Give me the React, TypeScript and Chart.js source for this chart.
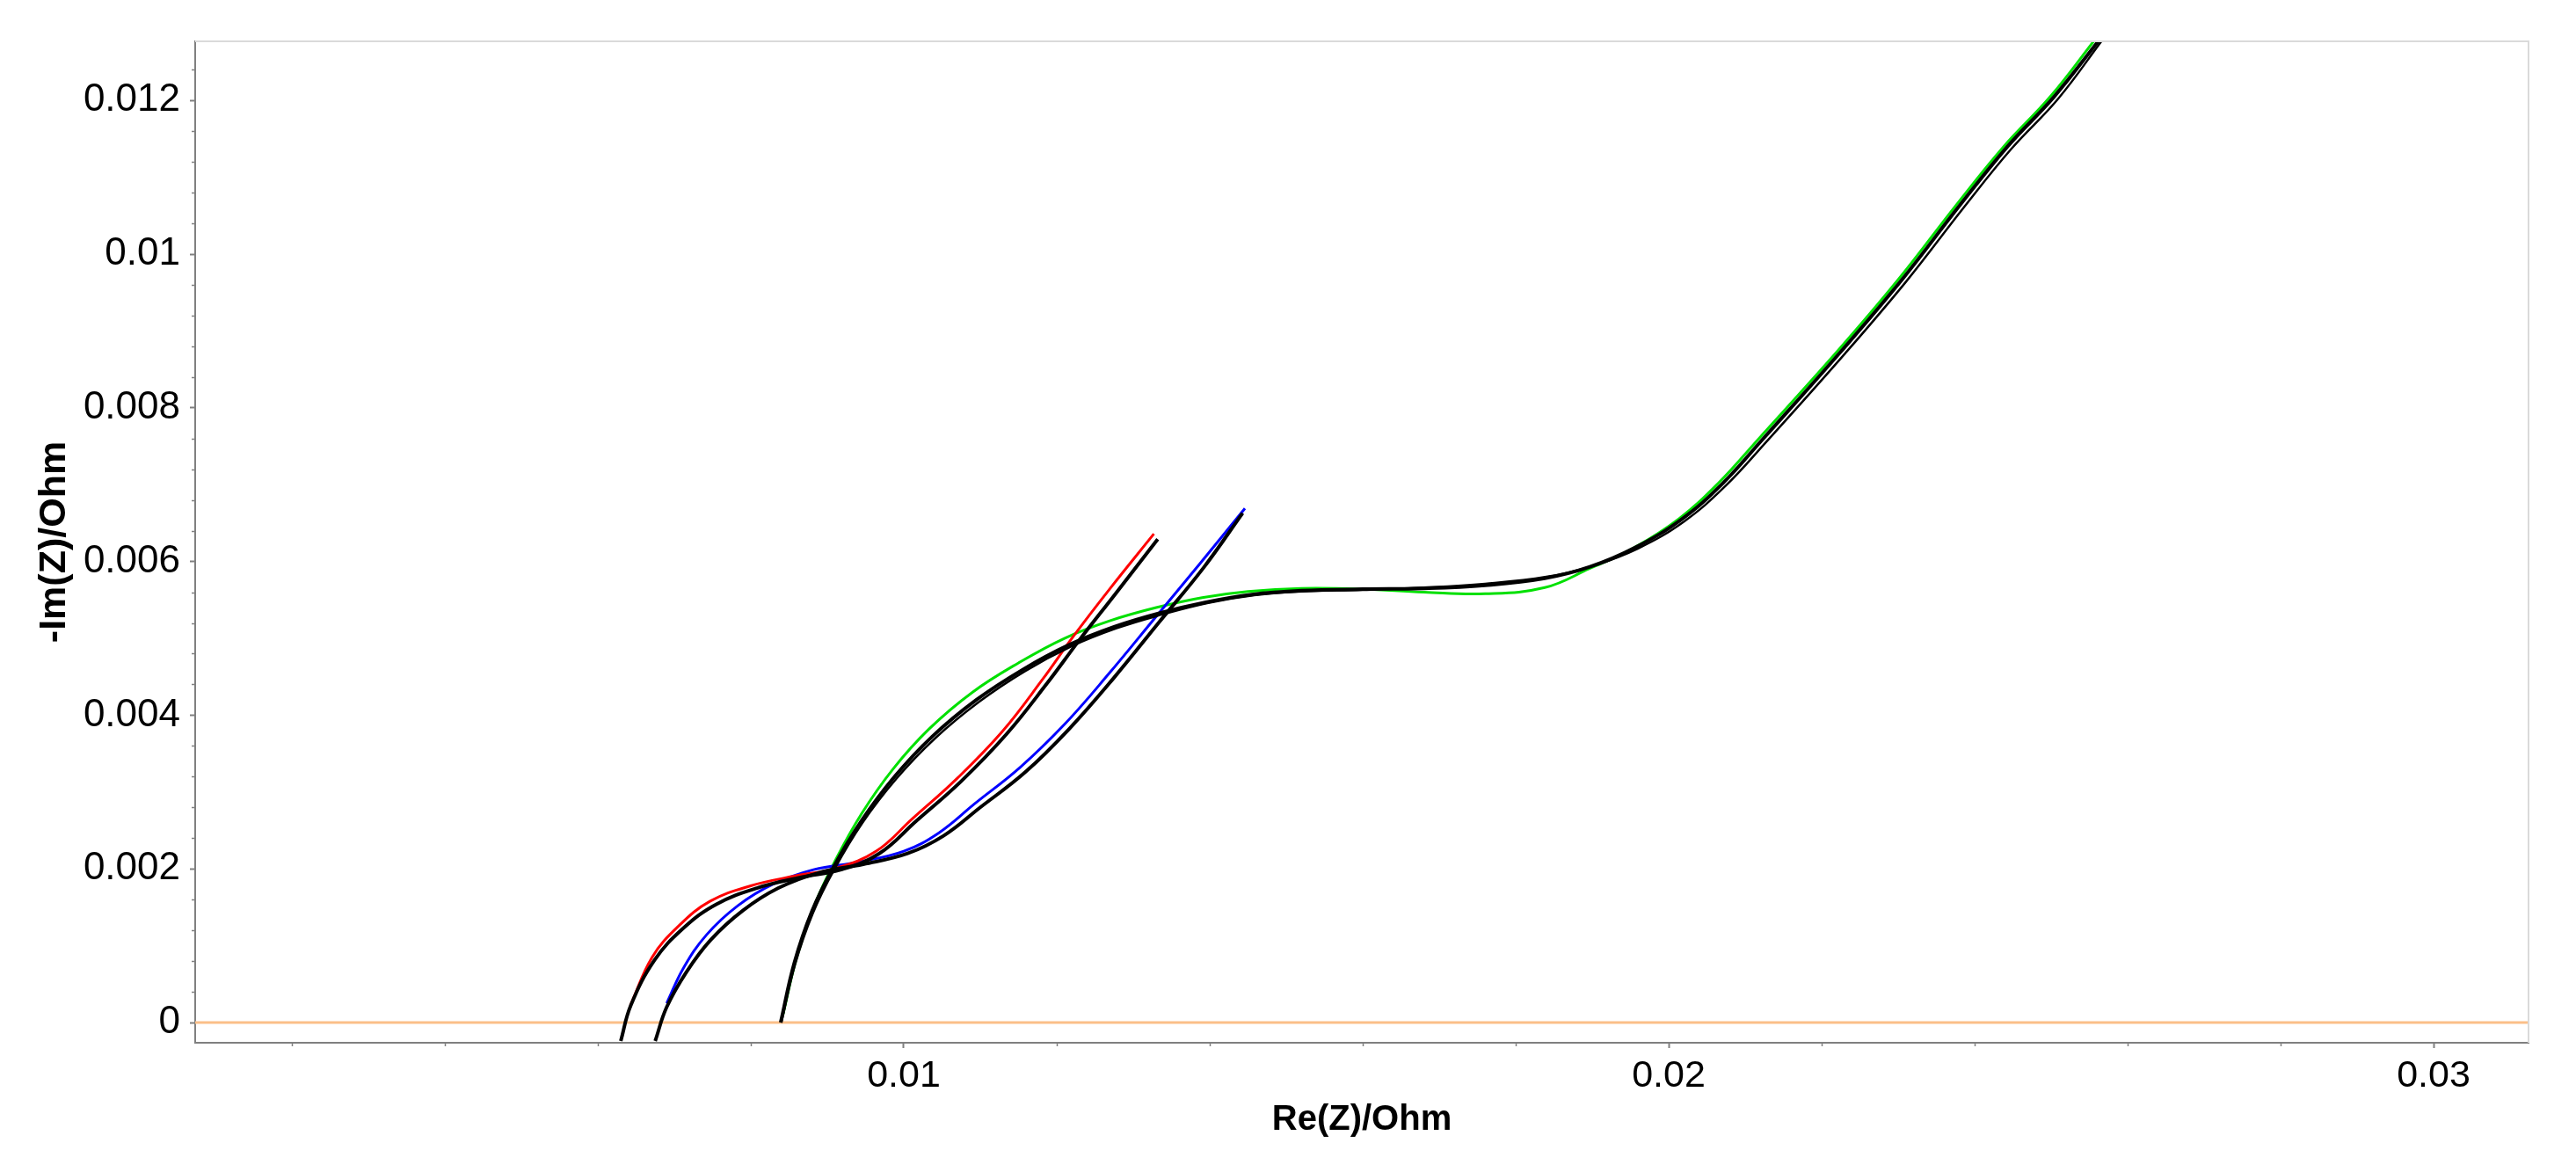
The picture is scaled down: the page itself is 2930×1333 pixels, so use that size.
import React, { useEffect, useRef } from 'react';
import { Chart, registerables } from 'chart.js';

Chart.register(...registerables);

// ---- axis ranges ----
const X_MIN = 0.000736;
const X_MAX = 0.031241;
const Y_MIN = -0.000263;
const Y_MAX = 0.012769;

// ---- ticks ----
const X_MAJOR_TICKS = [0.01, 0.02, 0.03];
const X_TICK_LABELS = ['0.01', '0.02', '0.03'];
const X_MINOR_TICKS = [0.002, 0.004, 0.006, 0.008, 0.012, 0.014, 0.016, 0.018, 0.022, 0.024, 0.026, 0.028];
const Y_MAJOR_TICKS = [0, 0.002, 0.004, 0.006, 0.008, 0.01, 0.012];
const Y_TICK_LABELS = ['0', '0.002', '0.004', '0.006', '0.008', '0.01', '0.012'];
const Y_MINOR_TICKS = [
  0.0004, 0.0008, 0.0012, 0.0016, 0.0024, 0.0028, 0.0032, 0.0036, 0.0044, 0.0048, 0.0052, 0.0056,
  0.0064, 0.0068, 0.0072, 0.0076, 0.0084, 0.0088, 0.0092, 0.0096, 0.0104, 0.0108, 0.0112, 0.0116, 0.0124,
];

// ---- zero reference line ----
const ZERO_X = [X_MIN, X_MAX];
const ZERO_Y = [0, 0];

// ---- red measurement ----
const RED_X = [0.006425, 0.00671, 0.00706, 0.00747, 0.0080, 0.00859, 0.00912, 0.00964, 0.01011, 0.0107, 0.01129, 0.01181, 0.01222, 0.01269, 0.01327];
const RED_Y = [0.00022, 0.00085, 0.00126, 0.00158, 0.00178, 0.00191, 0.00201, 0.00223, 0.00265, 0.00318, 0.00379, 0.00446, 0.00503, 0.00564, 0.00636];
// ---- red fit (black) ----
const RED_FIT_X = [0.0063, 0.00643, 0.00674, 0.00712, 0.00755, 0.00808, 0.00866, 0.00918, 0.00968, 0.01016, 0.01075, 0.01134, 0.01187, 0.01229, 0.01276, 0.01332];
const RED_FIT_Y = [-0.00024, 0.00022, 0.00081, 0.00123, 0.00154, 0.00175, 0.00189, 0.00199, 0.0022, 0.00262, 0.00314, 0.00375, 0.00441, 0.00497, 0.00557, 0.00629];

// ---- blue measurement ----
const BLUE_X = [0.0069, 0.00712, 0.00742, 0.00783, 0.00829, 0.00882, 0.00941, 0.01, 0.01046, 0.01093, 0.01152, 0.01211, 0.01269, 0.01328, 0.01387, 0.01446];
const BLUE_Y = [0.00025, 0.00071, 0.00114, 0.00152, 0.0018, 0.00199, 0.00209, 0.00223, 0.00247, 0.00285, 0.00332, 0.00389, 0.00455, 0.00526, 0.00597, 0.00669];
// ---- blue fit (black) ----
const BLUE_FIT_X = [0.00675, 0.0069, 0.00716, 0.00748, 0.0079, 0.00836, 0.00889, 0.00947, 0.01005, 0.01052, 0.011, 0.01159, 0.01217, 0.01275, 0.01333, 0.01392, 0.01443];
const BLUE_FIT_Y = [-0.00024, 0.0002, 0.00066, 0.00108, 0.00146, 0.00175, 0.00195, 0.00206, 0.0022, 0.00243, 0.0028, 0.00326, 0.00383, 0.00449, 0.0052, 0.00592, 0.00663];

// ---- green measurement ----
const GREEN_X = [0.00842, 0.0086, 0.00883, 0.0091, 0.00945, 0.00986, 0.01033, 0.0109, 0.0115, 0.0121, 0.0127, 0.0133, 0.0139, 0.0145, 0.0152, 0.016, 0.0168, 0.0176, 0.01838, 0.01897, 0.01955, 0.02014, 0.02065, 0.02117, 0.0222, 0.02301, 0.02376, 0.02438, 0.02499, 0.02558];
const GREEN_Y = [0.0001, 0.00085, 0.00152, 0.0021, 0.00272, 0.0033, 0.00382, 0.0043, 0.00468, 0.005, 0.00523, 0.0054, 0.00553, 0.00561, 0.00565, 0.00564, 0.0056, 0.00558, 0.00566, 0.00591, 0.00618, 0.00656, 0.00702, 0.00759, 0.00873, 0.00968, 0.01064, 0.0114, 0.01205, 0.0128];
// ---- green fits (black) ----
const GREEN_FIT1_X = [0.00839, 0.00857, 0.0088, 0.00908, 0.00945, 0.00988, 0.01037, 0.01095, 0.01155, 0.01215, 0.01275, 0.01335, 0.01395, 0.01455, 0.0152, 0.016, 0.0168, 0.0176, 0.01838, 0.01897, 0.01956, 0.02017, 0.0207, 0.02122, 0.02225, 0.02306, 0.02381, 0.02443, 0.02504, 0.02564];
const GREEN_FIT1_Y = [0, 0.00078, 0.00145, 0.00202, 0.00263, 0.0032, 0.00372, 0.0042, 0.00459, 0.00491, 0.00515, 0.00533, 0.00547, 0.00557, 0.00562, 0.00564, 0.00565, 0.00569, 0.00578, 0.00593, 0.00618, 0.00655, 0.00701, 0.00758, 0.00873, 0.00968, 0.01064, 0.0114, 0.01205, 0.0128];
const GREEN_FIT2_X = [0.0084, 0.00858, 0.00881, 0.00909, 0.00946, 0.0099, 0.0104, 0.01098, 0.01158, 0.01218, 0.01278, 0.01338, 0.01398, 0.01458, 0.0152, 0.016, 0.0168, 0.0176, 0.0184, 0.019, 0.0196, 0.0202, 0.02074, 0.02127, 0.0223, 0.02311, 0.02386, 0.02448, 0.02509, 0.02568];
const GREEN_FIT2_Y = [0, 0.00076, 0.00142, 0.00199, 0.0026, 0.00317, 0.00369, 0.00417, 0.00457, 0.00489, 0.00513, 0.00531, 0.00546, 0.00556, 0.00561, 0.00563, 0.00566, 0.00571, 0.0058, 0.00594, 0.00617, 0.00652, 0.00698, 0.00755, 0.0087, 0.00965, 0.01061, 0.01137, 0.01202, 0.0128];

const pts = (xs: number[], ys: number[]) => xs.map((x, i) => ({ x, y: ys[i] }));

const FONT = "'Liberation Sans', Arial, sans-serif";
const AXIS_COLOR = '#808080';

const frame = {
  id: 'frame',
  afterDraw(chart: any) {
    const { ctx, chartArea: a, scales } = chart;
    ctx.save();
    ctx.strokeStyle = '#dadada';
    ctx.lineWidth = 2;
    ctx.beginPath();
    ctx.moveTo(a.left, a.top);
    ctx.lineTo(a.right, a.top);
    ctx.lineTo(a.right, a.bottom);
    ctx.stroke();
    ctx.strokeStyle = AXIS_COLOR;
    ctx.lineWidth = 1.5;
    ctx.beginPath();
    X_MINOR_TICKS.forEach((v) => {
      const px = Math.round(scales.x.getPixelForValue(v)) + 0.5;
      ctx.moveTo(px, a.bottom);
      ctx.lineTo(px, a.bottom + 4);
    });
    Y_MINOR_TICKS.forEach((v) => {
      const py = Math.round(scales.y.getPixelForValue(v)) + 0.5;
      ctx.moveTo(a.left, py);
      ctx.lineTo(a.left - 4, py);
    });
    ctx.stroke();
    ctx.restore();
  },
};

export default function App() {
  const ref = useRef<HTMLCanvasElement>(null);
  useEffect(() => {
    document.body.style.margin = '0';
    const fitLine = (xs: number[], ys: number[], w = 4) => ({
      data: pts(xs, ys),
      borderColor: '#000000',
      borderWidth: w,
      pointRadius: 0,
      tension: 0.4,
      fill: false,
    });
    const measLine = (xs: number[], ys: number[], color: string) => ({
      data: pts(xs, ys),
      borderColor: color,
      borderWidth: 3,
      pointRadius: 0,
      tension: 0.4,
      fill: false,
    });
    const chart = new Chart(ref.current as HTMLCanvasElement, {
      type: 'line',
      data: {
        datasets: [
          fitLine(RED_FIT_X, RED_FIT_Y),
          fitLine(BLUE_FIT_X, BLUE_FIT_Y),
          fitLine(GREEN_FIT1_X, GREEN_FIT1_Y),
          fitLine(GREEN_FIT2_X, GREEN_FIT2_Y, 2.5),
          measLine(RED_X, RED_Y, '#ff0000'),
          measLine(BLUE_X, BLUE_Y, '#0000ff'),
          measLine(GREEN_X, GREEN_Y, '#00e000'),
          { data: pts(ZERO_X, ZERO_Y), borderColor: '#fbbf88', borderWidth: 3, pointRadius: 0, tension: 0 },
        ] as any,
      },
      options: {
        animation: false,
        responsive: false,
        devicePixelRatio: 1,
        layout: { padding: { left: 0, right: 54, top: 47, bottom: 0 } },
        plugins: { legend: { display: false }, tooltip: { enabled: false } },
        scales: {
          x: {
            type: 'linear',
            min: X_MIN,
            max: X_MAX,
            afterBuildTicks: (s: any) => {
              s.ticks = X_MAJOR_TICKS.map((value) => ({ value }));
            },
            afterFit: (s: any) => {
              s.height = 147;
            },
            ticks: {
              autoSkip: false,
              maxRotation: 0,
              padding: 6,
              color: '#000000',
              font: { family: FONT, size: 43 },
              callback: (_v: any, i: number) => X_TICK_LABELS[i],
            },
            grid: { display: true, drawOnChartArea: false, drawTicks: true, tickLength: 6, color: AXIS_COLOR, tickWidth: 2 },
            border: { display: true, color: AXIS_COLOR, width: 2 },
            title: {
              display: true,
              text: 'Re(Z)/Ohm',
              color: '#000000',
              font: { family: FONT, size: 40, weight: 'bold' },
              padding: { top: 35, bottom: 35 },
            },
          },
          y: {
            type: 'linear',
            min: Y_MIN,
            max: Y_MAX,
            afterBuildTicks: (s: any) => {
              s.ticks = Y_MAJOR_TICKS.map((value) => ({ value }));
            },
            afterFit: (s: any) => {
              s.width = 222;
            },
            ticks: {
              autoSkip: false,
              padding: 11,
              color: '#000000',
              font: { family: FONT, size: 44 },
              callback: (_v: any, i: number) => Y_TICK_LABELS[i],
            },
            grid: { display: true, drawOnChartArea: false, drawTicks: true, tickLength: 6, color: AXIS_COLOR, tickWidth: 2 },
            border: { display: true, color: AXIS_COLOR, width: 2 },
            title: {
              display: true,
              text: '-Im(Z)/Ohm',
              color: '#000000',
              font: { family: FONT, size: 43, weight: 'bold' },
              padding: { top: 36, bottom: 36 },
            },
          },
        },
      } as any,
      plugins: [frame],
    });
    return () => chart.destroy();
  }, []);
  return (
    <div style={{ position: 'absolute', left: 0, top: 0, width: 2930, height: 1333, background: '#ffffff' }}>
      <canvas ref={ref} width={2930} height={1333} style={{ display: 'block', width: 2930, height: 1333 }} />
    </div>
  );
}
